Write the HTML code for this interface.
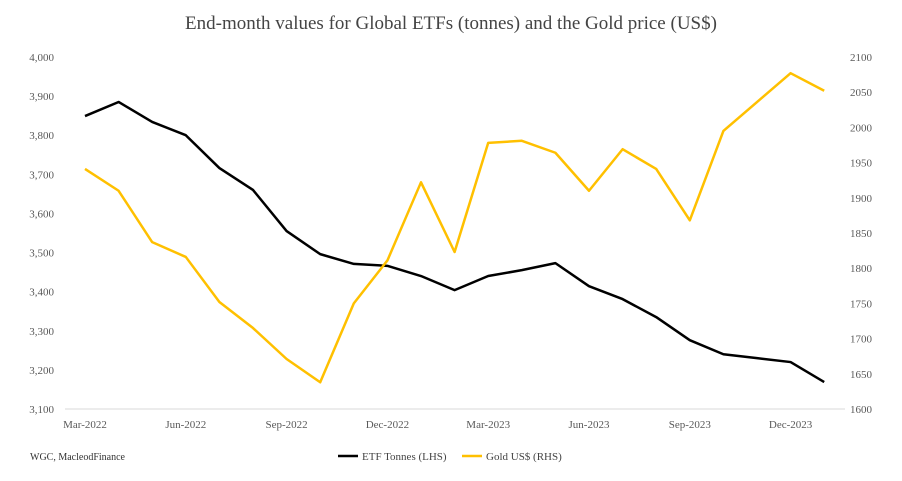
<!DOCTYPE html>
<html><head><meta charset="utf-8"><style>
body{margin:0;background:#fff;width:902px;height:476px;overflow:hidden;font-family:"Liberation Serif",serif}
</style></head><body>
<svg id="c" width="902" height="476" xmlns="http://www.w3.org/2000/svg">
<text x="451" y="29" text-anchor="middle" font-size="19" fill="#444">End-month values for Global ETFs (tonnes) and the Gold price (US$)</text>
<text x="30" y="460" font-size="10" fill="#333">WGC, MacleodFinance</text>
<line x1="338" y1="456" x2="358" y2="456" stroke="#000" stroke-width="2.5"/>
<text x="362" y="460" font-size="11" fill="#444">ETF Tonnes (LHS)</text>
<line x1="462" y1="456" x2="482" y2="456" stroke="#FFC000" stroke-width="2.5"/>
<text x="486" y="460" font-size="11" fill="#444">Gold US$ (RHS)</text>
<g id="plot"></g>
</svg>
<script>
const months=["Mar-2022","Apr-2022","May-2022","Jun-2022","Jul-2022","Aug-2022","Sep-2022","Oct-2022","Nov-2022","Dec-2022","Jan-2023","Feb-2023","Mar-2023","Apr-2023","May-2023","Jun-2023","Jul-2023","Aug-2023","Sep-2023","Oct-2023","Nov-2023","Dec-2023","Jan-2024"];
const etfTonnes=[3849,3885,3834,3800,3716,3660,3555,3496,3471,3466,3440,3404,3440,3455,3473,3414,3381,3335,3276,3240,3230,3220,3169];
const goldPrice=[1941,1910,1837,1816,1752,1715,1671,1638,1750,1811,1922,1823,1978,1981,1964,1910,1969,1941,1868,1995,2036,2077,2052];
const leftTicks=[3100,3200,3300,3400,3500,3600,3700,3800,3900,4000];
const rightTicks=[1600,1650,1700,1750,1800,1850,1900,1950,2000,2050,2100];
const xLabelIdx=[0,3,6,9,12,15,18,21];

const NS="http://www.w3.org/2000/svg";
const plotG=document.getElementById('plot');
const yTop=57,yBot=409,x0=85,step=33.6;
const xPos=i=>x0+i*step;
const yL=v=>yBot-(v-3100)/900*(yBot-yTop);
const yR=v=>yBot-(v-1600)/500*(yBot-yTop);
function mk(t,a){const e=document.createElementNS(NS,t);for(const k in a)e.setAttribute(k,a[k]);plotG.appendChild(e);return e;}
let ax=mk('line',{x1:65,x2:845,y1:yBot,y2:yBot,stroke:'#d9d9d9'});


leftTicks.forEach(v=>{const t=mk('text',{x:54,y:yL(v)+4,'text-anchor':'end','font-size':11,fill:'#595959'});t.textContent=v.toLocaleString('en-US');

});
rightTicks.forEach(v=>{const t=mk('text',{x:850,y:yR(v)+4,'font-size':11,fill:'#595959'});t.textContent=v;

});
xLabelIdx.forEach(i=>{const t=mk('text',{x:xPos(i),y:428,'text-anchor':'middle','font-size':11,fill:'#595959'});t.textContent=months[i];

});
const p1=mk('polyline',{points:etfTonnes.map((v,i)=>xPos(i)+','+yL(v)).join(' '),fill:'none',stroke:'#000','stroke-width':2.5,'stroke-linejoin':'round'});


const p2=mk('polyline',{points:goldPrice.map((v,i)=>xPos(i)+','+yR(v)).join(' '),fill:'none',stroke:'#FFC000','stroke-width':2.5,'stroke-linejoin':'round'});


</script>
</body></html>
